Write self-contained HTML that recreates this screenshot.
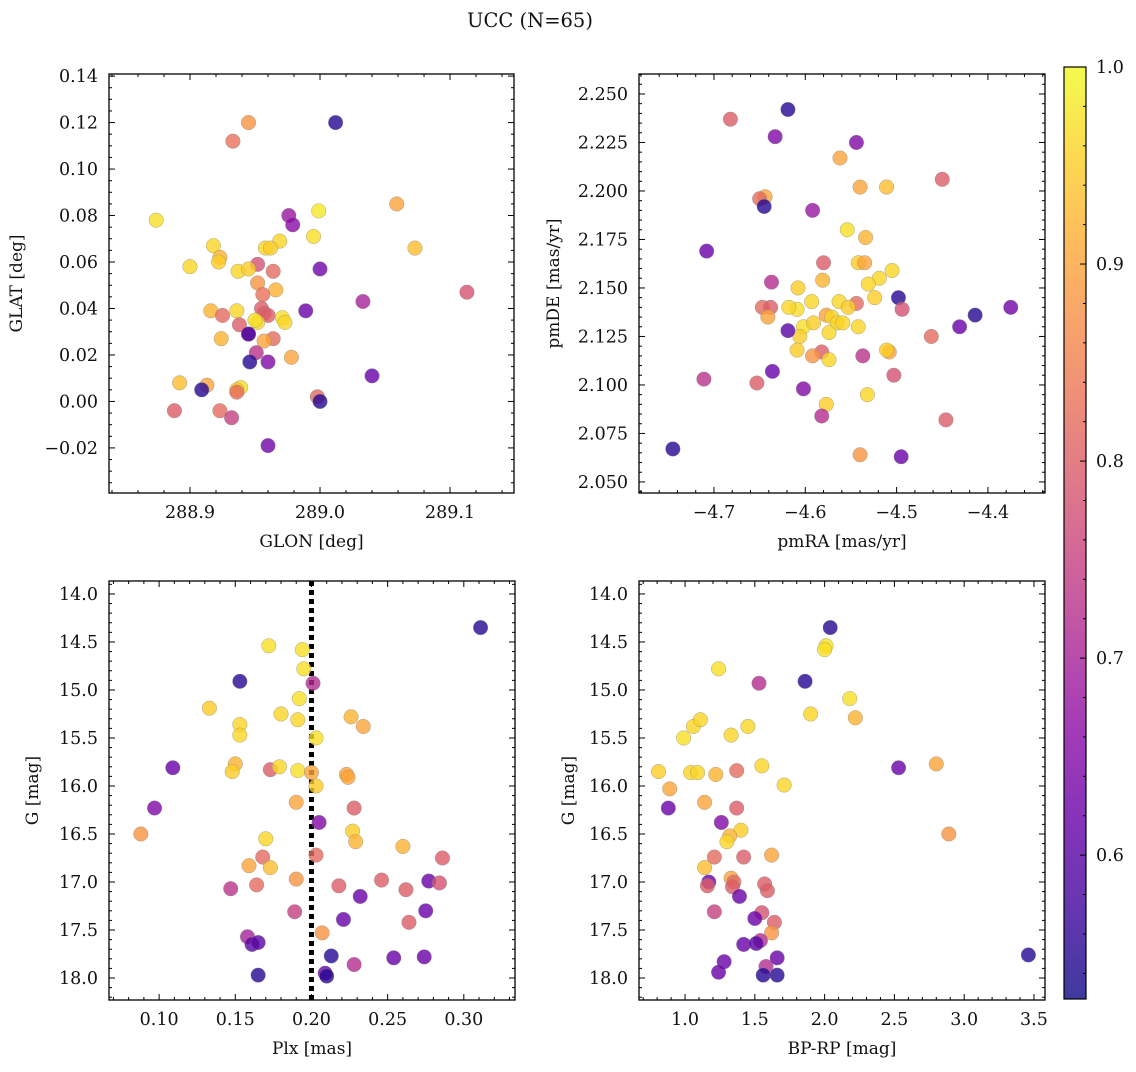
<!DOCTYPE html>
<html><head><meta charset="utf-8"><style>
body{margin:0;background:#fff;}
svg text{font-family:"DejaVu Serif","Liberation Serif",serif;fill:#111;}
</style></head><body>
<svg id="fig" width="1136" height="1067" viewBox="0 0 1136 1067" xmlns="http://www.w3.org/2000/svg">
<defs><linearGradient id="plasma" x1="0" y1="1" x2="0" y2="0"></linearGradient></defs>
<text x="530" y="27" font-size="19.5" text-anchor="middle">UCC (N=65)</text>
</svg>
<script>
// ---- data ----
const p1Glon=[289.012,288.945,288.933,288.874,288.999,289.059,288.976,288.979,288.918,288.969,288.995,288.958,288.962,289.073,288.923,288.922,288.900,288.952,288.964,288.937,288.945,289.000,288.952,288.966,288.956,289.113,289.033,288.955,288.916,288.936,288.989,288.957,288.960,288.925,288.971,288.973,288.952,288.950,288.938,288.945,288.945,288.964,288.957,288.924,288.951,288.960,288.978,288.946,288.913,288.939,288.936,288.936,288.909,288.892,289.040,288.998,289.000,288.888,288.923,288.932,288.960];
const p1Glat=[0.120,0.120,0.112,0.078,0.082,0.085,0.080,0.076,0.067,0.069,0.071,0.066,0.066,0.066,0.062,0.060,0.058,0.059,0.056,0.056,0.057,0.057,0.051,0.048,0.046,0.047,0.043,0.040,0.039,0.039,0.039,0.038,0.037,0.037,0.036,0.034,0.034,0.035,0.033,0.029,0.029,0.027,0.026,0.027,0.021,0.017,0.019,0.017,0.007,0.006,0.005,0.004,0.005,0.008,0.011,0.002,0.000,-0.004,-0.004,-0.007,-0.019];
const p1Prob=[.55,.88,.83,.97,.98,.9,.68,.66,.96,.96,.97,.96,.95,.93,.92,.95,.96,.78,.82,.96,.95,.63,.88,.92,.83,.78,.70,.80,.92,.96,.62,.80,.80,.82,.97,.96,.96,.97,.80,.72,.58,.82,.90,.92,.73,.65,.90,.55,.90,.97,.95,.82,.55,.93,.62,.82,.55,.80,.82,.75,.63];
const p2Pmra=[-4.682,-4.619,-4.633,-4.544,-4.562,-4.450,-4.540,-4.511,-4.644,-4.650,-4.592,-4.645,-4.554,-4.708,-4.534,-4.542,-4.535,-4.580,-4.519,-4.505,-4.581,-4.637,-4.608,-4.531,-4.563,-4.524,-4.593,-4.544,-4.553,-4.577,-4.571,-4.565,-4.609,-4.618,-4.498,-4.494,-4.414,-4.375,-4.647,-4.638,-4.641,-4.602,-4.591,-4.559,-4.606,-4.619,-4.574,-4.431,-4.542,-4.462,-4.609,-4.582,-4.592,-4.508,-4.511,-4.537,-4.574,-4.636,-4.711,-4.653,-4.602,-4.503,-4.532,-4.577,-4.582,-4.446,-4.745,-4.540,-4.495];
const p2Pmde=[2.237,2.242,2.228,2.225,2.217,2.206,2.202,2.202,2.197,2.196,2.190,2.192,2.180,2.169,2.176,2.163,2.163,2.163,2.155,2.159,2.154,2.153,2.150,2.152,2.143,2.145,2.143,2.142,2.140,2.136,2.135,2.132,2.139,2.140,2.145,2.139,2.136,2.140,2.140,2.140,2.135,2.130,2.132,2.132,2.125,2.128,2.127,2.130,2.130,2.125,2.118,2.117,2.115,2.117,2.118,2.115,2.113,2.107,2.103,2.101,2.098,2.105,2.095,2.090,2.084,2.082,2.067,2.064,2.063];
const p2Prob=[.80,.55,.65,.65,.90,.80,.90,.93,.90,.82,.68,.55,.97,.62,.92,.95,.90,.80,.96,.96,.92,.72,.95,.96,.96,.95,.96,.82,.95,.90,.96,.96,.97,.96,.55,.78,.55,.63,.82,.80,.90,.97,.95,.96,.95,.60,.96,.62,.96,.82,.95,.80,.88,.90,.95,.73,.96,.62,.73,.80,.65,.78,.96,.95,.72,.80,.55,.88,.62];
const p3Plx=[0.311,0.172,0.194,0.195,0.201,0.153,0.192,0.133,0.153,0.153,0.180,0.191,0.226,0.234,0.203,0.109,0.150,0.148,0.173,0.179,0.191,0.200,0.223,0.224,0.203,0.097,0.190,0.228,0.205,0.088,0.227,0.170,0.229,0.260,0.203,0.168,0.159,0.173,0.286,0.190,0.246,0.164,0.147,0.218,0.262,0.277,0.284,0.232,0.189,0.275,0.264,0.221,0.207,0.158,0.161,0.165,0.213,0.254,0.228,0.274,0.165,0.209,0.210];
const p3G=[14.35,14.54,14.58,14.78,14.93,14.91,15.09,15.19,15.36,15.47,15.25,15.31,15.28,15.38,15.50,15.81,15.77,15.85,15.83,15.80,15.84,15.86,15.88,15.91,16.00,16.23,16.17,16.23,16.38,16.50,16.47,16.55,16.58,16.63,16.72,16.74,16.83,16.85,16.75,16.97,16.98,17.03,17.07,17.04,17.08,16.99,17.01,17.15,17.31,17.30,17.42,17.39,17.53,17.57,17.65,17.63,17.77,17.79,17.86,17.78,17.97,17.95,17.98];
const p3Prob=[.55,.97,.97,.97,.72,.55,.97,.95,.96,.96,.96,.96,.92,.90,.97,.62,.92,.95,.80,.96,.97,.90,.90,.90,.95,.65,.90,.80,.65,.88,.95,.96,.92,.92,.82,.82,.90,.93,.80,.88,.80,.82,.73,.80,.80,.62,.78,.62,.75,.62,.80,.62,.88,.70,.60,.60,.55,.62,.72,.62,.55,.62,.55];
const p4Bprp=[2.04,2.01,2.00,1.24,1.53,1.86,2.18,1.06,1.11,2.22,1.90,1.45,1.33,0.99,0.81,1.04,1.09,1.22,1.37,1.55,2.80,2.53,0.89,1.71,0.88,1.14,1.37,1.26,1.40,2.89,1.32,1.30,1.42,1.21,1.62,1.14,1.33,1.35,1.17,1.16,1.34,1.57,1.59,1.39,1.21,1.55,1.50,1.64,1.62,1.54,1.42,1.51,1.28,1.58,1.66,1.24,1.56,1.66,3.46];
const p4G=[14.35,14.54,14.58,14.78,14.93,14.91,15.09,15.38,15.31,15.29,15.25,15.38,15.47,15.50,15.85,15.86,15.86,15.88,15.84,15.79,15.77,15.81,16.03,15.99,16.23,16.17,16.23,16.38,16.46,16.50,16.52,16.58,16.74,16.74,16.72,16.85,16.96,17.00,17.00,17.04,17.05,17.02,17.09,17.15,17.31,17.32,17.38,17.42,17.53,17.61,17.65,17.64,17.83,17.88,17.79,17.94,17.97,17.97,17.76];
const p4Prob=[.55,.97,.97,.97,.72,.55,.97,.96,.96,.92,.96,.96,.96,.97,.95,.96,.96,.92,.82,.96,.90,.62,.90,.96,.62,.90,.80,.65,.95,.88,.92,.96,.80,.82,.90,.93,.90,.82,.62,.80,.80,.80,.80,.62,.75,.78,.62,.80,.88,.72,.62,.60,.62,.72,.62,.62,.55,.55,.55];
const cbTicks=[0.6,0.7,0.8,0.9,1.0];

const NS='http://www.w3.org/2000/svg';
const svg=document.getElementById('fig');
function mk(tag,attrs,parent){const e=document.createElementNS(NS,tag);for(const k in attrs)e.setAttribute(k,attrs[k]);(parent||svg).appendChild(e);return e;}
const stops=['#0d0887','#41049d','#6a00a8','#8f0da4','#b12a90','#cc4778','#e16462','#f2844b','#fca636','#fcce25','#f0f921'];
const grad=document.getElementById('plasma');
stops.forEach((c,i)=>mk('stop',{offset:(i*10)+'%','stop-color':c},grad));
function hex(c){return [1,3,5].map(i=>parseInt(c.substr(i,2),16));}
const VMIN=0.527,VMAX=1.0;
function cmap(v){let t=(v-VMIN)/(VMAX-VMIN);t=Math.max(0,Math.min(1,t))*10;const i=Math.min(9,Math.floor(t)),f=t-i;const a=hex(stops[i]),b=hex(stops[i+1]);return 'rgb('+a.map((x,k)=>Math.round(x+(b[k]-x)*f)).join(',')+')';}

function panel(o){
  const {x0,x1,y0,y1,xmin,xmax,ymin,ymax,inv}=o;
  const X=v=>x0+(v-xmin)/(xmax-xmin)*(x1-x0);
  const Y=v=>inv? y0+(v-ymin)/(ymax-ymin)*(y1-y0) : y1-(v-ymin)/(ymax-ymin)*(y1-y0);
  const g=mk('g',{});
  
  
  if(o.vline!==undefined){const l=mk('line',{x1:X(o.vline),x2:X(o.vline),y1:y0,y2:y1,stroke:'#000','stroke-width':5,'stroke-dasharray':'5 4'},g);
    }
  o.xs.forEach((xv,i)=>{const c=mk('circle',{cx:X(xv),cy:Y(o.ys[i]),r:7.3,fill:cmap(o.ps[i]),'fill-opacity':0.8,stroke:'#888','stroke-width':0.5,'stroke-opacity':0.7},g);
    });
  const fr=mk('rect',{x:x0,y:y0,width:x1-x0,height:y1-y0,fill:'none',stroke:'#000','stroke-width':1.3},g);
  
  const eps=1e-9;
  for(let v=Math.ceil(xmin/o.xminor-eps)*o.xminor;v<=xmax+eps;v+=o.xminor){const px=X(v);const major=Math.abs(v/o.xmajor-Math.round(v/o.xmajor))<1e-4;const L=major?6:3;
    mk('line',{x1:px,x2:px,y1:y1,y2:y1-L,stroke:'#000','stroke-width':1},g);mk('line',{x1:px,x2:px,y1:y0,y2:y0+L,stroke:'#000','stroke-width':1},g);}
  o.xticks.forEach(v=>{const t=mk('text',{x:X(v),y:y1+25,'font-size':17.5,'text-anchor':'middle'},g);t.textContent=o.xfmt(v);
    });
  for(let v=Math.ceil(ymin/o.yminor-eps)*o.yminor;v<=ymax+eps;v+=o.yminor){const py=Y(v);const major=Math.abs(v/o.ymajor-Math.round(v/o.ymajor))<1e-4;const L=major?6:3;
    mk('line',{x1:x0,x2:x0+L,y1:py,y2:py,stroke:'#000','stroke-width':1},g);mk('line',{x1:x1,x2:x1-L,y1:py,y2:py,stroke:'#000','stroke-width':1},g);}
  o.yticks.forEach(v=>{const t=mk('text',{x:x0-11,y:Y(v)+6,'font-size':17.5,'text-anchor':'end'},g);t.textContent=o.yfmt(v);
    });
  const xl=mk('text',{x:(x0+x1)/2,y:y1+54,'font-size':17,'text-anchor':'middle'},g);xl.textContent=o.xlabel;
  
  const cy=(y0+y1)/2;const yl=mk('text',{x:o.ylx,y:cy,'font-size':17,'text-anchor':'middle',transform:'rotate(-90 '+o.ylx+' '+cy+')'},g);yl.textContent=o.ylabel;
  
}
const f=(d)=>v=>{const s=Math.abs(v).toFixed(d);return (v<-1e-9?'\u2212':'')+s;};
panel({name:'glon-glat-panel',x0:109,x1:514,y0:74,y1:493,xmin:288.8377,xmax:289.1492,ymin:-0.0394,ymax:0.1409,xs:p1Glon,ys:p1Glat,ps:p1Prob,
 xmajor:0.1,xminor:0.02,ymajor:0.02,yminor:0.005,xticks:[288.9,289.0,289.1],yticks:[-0.02,0,0.02,0.04,0.06,0.08,0.10,0.12,0.14],xfmt:f(1),yfmt:f(2),xlabel:'GLON [deg]',ylabel:'GLAT [deg]',ylx:22});
panel({name:'pm-panel',x0:639,x1:1045,y0:74,y1:493,xmin:-4.7821,xmax:-4.3375,ymin:2.0443,ymax:2.2603,xs:p2Pmra,ys:p2Pmde,ps:p2Prob,
 xmajor:0.1,xminor:0.02,ymajor:0.025,yminor:0.005,xticks:[-4.7,-4.6,-4.5,-4.4],yticks:[2.05,2.075,2.1,2.125,2.15,2.175,2.2,2.225,2.25],xfmt:f(1),yfmt:f(3),xlabel:'pmRA [mas/yr]',ylabel:'pmDE [mas/yr]',ylx:559});
panel({name:'plx-g-panel',x0:109,x1:515,y0:581,y1:1000,xmin:0.0671,xmax:0.3336,ymin:13.865,ymax:18.229,inv:true,xs:p3Plx,ys:p3G,ps:p3Prob,vline:0.2,
 xmajor:0.05,xminor:0.01,ymajor:0.5,yminor:0.1,xticks:[0.10,0.15,0.20,0.25,0.30],yticks:[14,14.5,15,15.5,16,16.5,17,17.5,18],xfmt:f(2),yfmt:f(1),xlabel:'Plx [mas]',ylabel:'G [mag]',ylx:38});
panel({name:'cmd-panel',x0:639,x1:1045,y0:581,y1:1000,xmin:0.670,xmax:3.579,ymin:13.865,ymax:18.229,inv:true,xs:p4Bprp,ys:p4G,ps:p4Prob,
 xmajor:0.5,xminor:0.1,ymajor:0.5,yminor:0.1,xticks:[1,1.5,2,2.5,3,3.5],yticks:[14,14.5,15,15.5,16,16.5,17,17.5,18],xfmt:f(1),yfmt:f(1),xlabel:'BP-RP [mag]',ylabel:'G [mag]',ylx:574});
// colorbar
const cb=mk('g',{});


const cy0=67,cy1=999;const CY=v=>cy1-(v-VMIN)/(VMAX-VMIN)*(cy1-cy0);
mk('rect',{x:1064,y:cy0,width:22,height:cy1-cy0,fill:'url(#plasma)','fill-opacity':0.8},cb);
mk('rect',{x:1064,y:cy0,width:22,height:cy1-cy0,fill:'none',stroke:'#000','stroke-width':1.2},cb);
for(let v=0.54;v<=1.0001;v+=0.02){const py=CY(v);const major=Math.abs(v*10-Math.round(v*10))<1e-4;mk('line',{x1:1086,x2:1086-(major?6:3),y1:py,y2:py,stroke:'#000','stroke-width':1},cb);}
cbTicks.forEach(v=>{const t=mk('text',{x:1096,y:CY(v)+6,'font-size':17.5},cb);t.textContent=v.toFixed(1);
  });
</script>
</body></html>
